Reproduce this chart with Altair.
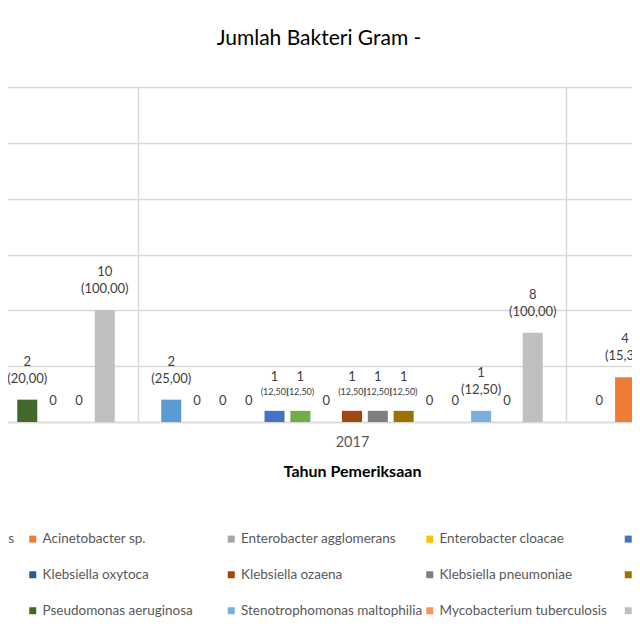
import altair as alt
import pandas as pd

years = ["2016", "2017", "2018"]
series = [
    "Achromobacter xylosoxidans", "Acinetobacter sp.", "Enterobacter agglomerans",
    "Enterobacter cloacae", "Escherichia coli",
    "Klebsiella ornithinolytica", "Klebsiella oxytoca", "Klebsiella ozaena",
    "Klebsiella pneumoniae", "Proteus mirabilis",
    "Providencia rettgeri", "Pseudomonas aeruginosa", "Stenotrophomonas maltophilia",
    "Mycobacterium tuberculosis", "Total",
]
colors = [
    "#5B9BD5", "#ED7D31", "#A5A5A5", "#FFC000", "#4472C4",
    "#70AD47", "#255E91", "#9E480E", "#7F7F7F", "#997300",
    "#264478", "#43682B", "#7CAFDD", "#F1975A", "#BFBFBF",
]
# counts per year, in series order (None = not visible in the picture)
counts_2016 = [None] * 10 + [0, 2, 0, 0, 10]
counts_2017 = [2, 0, 0, 0, 1, 1, 0, 1, 1, 1, 0, 0, 1, 0, 8]
counts_2018 = [0, 4] + [None] * 13
totals = [10, 8, 26]

# labels drawn with the smaller percent font in the original
small_labels = ["2017|Escherichia coli", "2017|Klebsiella ornithinolytica",
                "2017|Klebsiella ozaena", "2017|Klebsiella pneumoniae",
                "2017|Proteus mirabilis"]

rows = []
for yr, counts, tot in zip(years, [counts_2016, counts_2017, counts_2018], totals):
    for s, c in zip(series, counts):
        if c is None:
            continue
        pct = "(" + f"{c / tot * 100:.2f}".replace(".", ",") + ")"
        rows.append({
            "year": yr, "series": s, "count": c,
            "bottom_text": pct if c > 0 else "0",
            "top_text": str(c) if c > 0 else "",
        })
df = pd.DataFrame(rows)

FONT = "Lato"
GRID = "#D9D9D9"

small_expr = "indexof([" + ",".join("'" + k + "'" for k in small_labels) + "], datum.year + '|' + datum.series) >= 0"

base = alt.Chart(df).encode(
    x=alt.X("year:N", title="Tahun Pemeriksaan",
            scale=alt.Scale(domain=years, paddingInner=0, paddingOuter=0),
            axis=alt.Axis(labelAngle=0, tickBand="extent", ticks=False, tickSize=0,
                          grid=True, gridColor=GRID, gridWidth=1.5,
                          domainColor=GRID, domainWidth=1.5,
                          labelFont=FONT, labelFontSize=14.5, labelColor="#595959",
                          labelPadding=13, titleFont=FONT, titleFontSize=16,
                          titleFontWeight="bold", titleColor="#000000", titlePadding=15)),
    xOffset=alt.XOffset("series:N",
                        scale=alt.Scale(domain=series, paddingInner=0.225, paddingOuter=0.9)),
    y=alt.Y("count:Q", title=None,
            scale=alt.Scale(domain=[0, 30], nice=False),
            axis=alt.Axis(values=[0, 5, 10, 15, 20, 25, 30], labels=False, ticks=False,
                          domain=False, gridColor=GRID, gridWidth=1.5)),
)

bars = base.mark_bar().encode(
    color=alt.Color("series:N",
                    scale=alt.Scale(domain=series, range=colors),
                    legend=alt.Legend(title=None, orient="none", legendX=117.5, legendY=445,
                                      direction="horizontal",
                                      columns=5, gridAlign="all", symbolType="square",
                                      symbolSize=49, symbolStrokeWidth=0,
                                      labelFont=FONT, labelFontSize=13.5,
                                      labelColor="#595959", labelLimit=400,
                                      labelOffset=3, columnPadding=0.5, rowPadding=21,
                                      padding=0))
)

text_style = dict(font=FONT, color="#404040", baseline="middle", align="center")

pct_normal = base.transform_filter("!(" + small_expr + ")").mark_text(
    dy=-21, fontSize=13, **text_style).encode(text="bottom_text:N")
pct_small = base.transform_filter(small_expr).mark_text(
    dy=-19, fontSize=9, **text_style).encode(text="bottom_text:N")
val_normal = base.transform_filter("!(" + small_expr + ") && datum.count > 0").mark_text(
    dy=-38, fontSize=13, **text_style).encode(text="top_text:N")
val_small = base.transform_filter(small_expr + " && datum.count > 0").mark_text(
    dy=-34, fontSize=13, **text_style).encode(text="top_text:N")

chart = alt.layer(bars, pct_normal, pct_small, val_normal, val_small).properties(
    width=1284, height=335,
    title=alt.TitleParams("Jumlah Bakteri Gram -", font=FONT, fontSize=21,
                          fontWeight="normal", color="#000000", anchor="middle",
                          dx=-33, offset=38),
    padding={"left": -298, "top": 79, "right": -362, "bottom": 210},
    autosize=alt.AutoSizeParams(type="none"),
).configure_view(stroke=None)

chart.save("out.html", embed_options={"renderer": "svg", "actions": False})
